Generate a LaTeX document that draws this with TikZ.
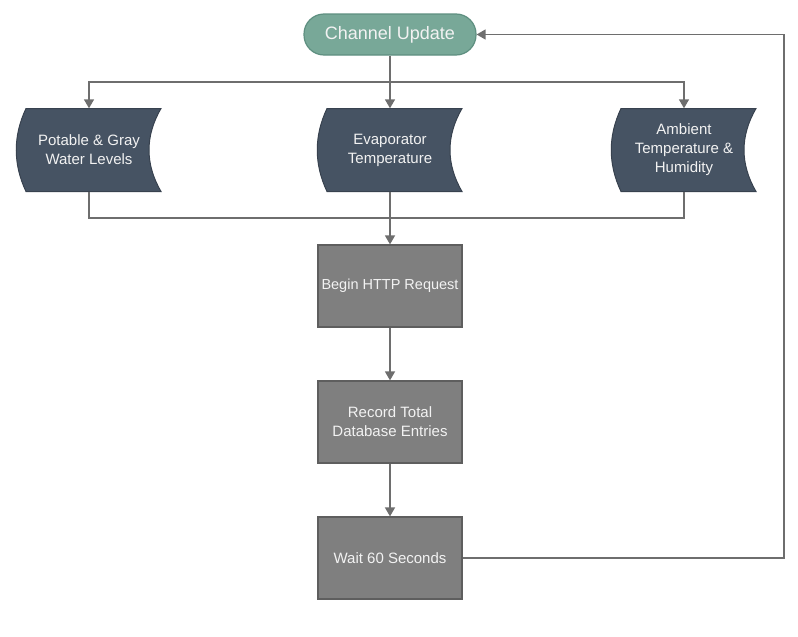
\documentclass[tikz,border=0pt]{standalone}
\usepackage{fontspec}
\setmainfont{Liberation Sans}
\usetikzlibrary{calc,arrows.meta}
\definecolor{teal1}{HTML}{78A898}
\definecolor{teal2}{HTML}{5E8F80}
\definecolor{slate1}{HTML}{465363}
\definecolor{slate2}{HTML}{38424F}
\definecolor{box1}{HTML}{7F7F7F}
\definecolor{box2}{HTML}{5E5E5E}
\definecolor{lin}{HTML}{6E6E6E}
\definecolor{txt}{HTML}{F2F2F2}
\tikzset{
  term/.style={rounded corners=20pt, fill=teal1, draw=teal2, line width=1.2pt,
    minimum width=172pt, minimum height=41pt, text=txt, font=\fontsize{18}{21}\selectfont},
  sdtext/.style={minimum width=144pt, minimum height=83pt, text=txt, align=center,
    font=\fontsize{15}{19}\selectfont},
  sdshape/.style={fill=slate1, draw=slate2, line width=1pt},
  procbox/.style={fill=box1, draw=box2, line width=1.2pt, minimum width=144pt,
    minimum height=82pt, text=txt, align=center, font=\fontsize{15}{19}\selectfont},
  conn/.style={draw=lin, line width=1.5pt},
  arr/.style={conn, -{Triangle[length=9pt,width=10pt]}}
}
\newcommand{\sdnode}[3]{%
  \path[sdshape] ($(#2)+(-63,-41.5)$) -- ($(#2)+(72,-41.5)$)
    .. controls ($(#2)+(56,-14)$) and ($(#2)+(56,14)$) .. ($(#2)+(72,41.5)$)
    -- ($(#2)+(-63,41.5)$)
    .. controls ($(#2)+(-76,14)$) and ($(#2)+(-76,-14)$) .. cycle;
  \node[sdtext] (#1) at (#2) {#3};}
\begin{document}
\begin{tikzpicture}[x=1pt,y=-1pt]
\useasboundingbox (0,0) rectangle (798,637);
\node[term] (cu) at (390,34.5) {Channel Update};
\sdnode{p}{89,150}{Potable \& Gray\\Water Levels}
\sdnode{e}{390,150}{Evaporator\\Temperature}
\sdnode{a}{684,150}{Ambient\\Temperature \&\\Humidity}
\node[procbox, font=\fontsize{14.5}{19}\selectfont] (b1) at (390,286) {Begin HTTP Request};
\node[procbox] (b2) at (390,422) {Record Total\\Database Entries};
\node[procbox] (b3) at (390,558) {Wait 60 Seconds};
\coordinate (j1) at (390,82);
\coordinate (j2) at (390,218);
\coordinate (r) at (784,34.5);
\draw[conn] (cu.south) -- (j1);
\draw[arr] (j1) -| (p.north);
\draw[arr] (j1) -| (a.north);
\draw[arr] (j1) -- (e.north);
\draw[conn] (p.south) |- (j2);
\draw[conn] (a.south) |- (j2);
\draw[arr] (e.south) -- (b1.north);
\draw[arr] (b1.south) -- (b2.north);
\draw[arr] (b2.south) -- (b3.north);
\draw[arr] (b3.east) -| (r) -- (cu.east);
\end{tikzpicture}
\end{document}
